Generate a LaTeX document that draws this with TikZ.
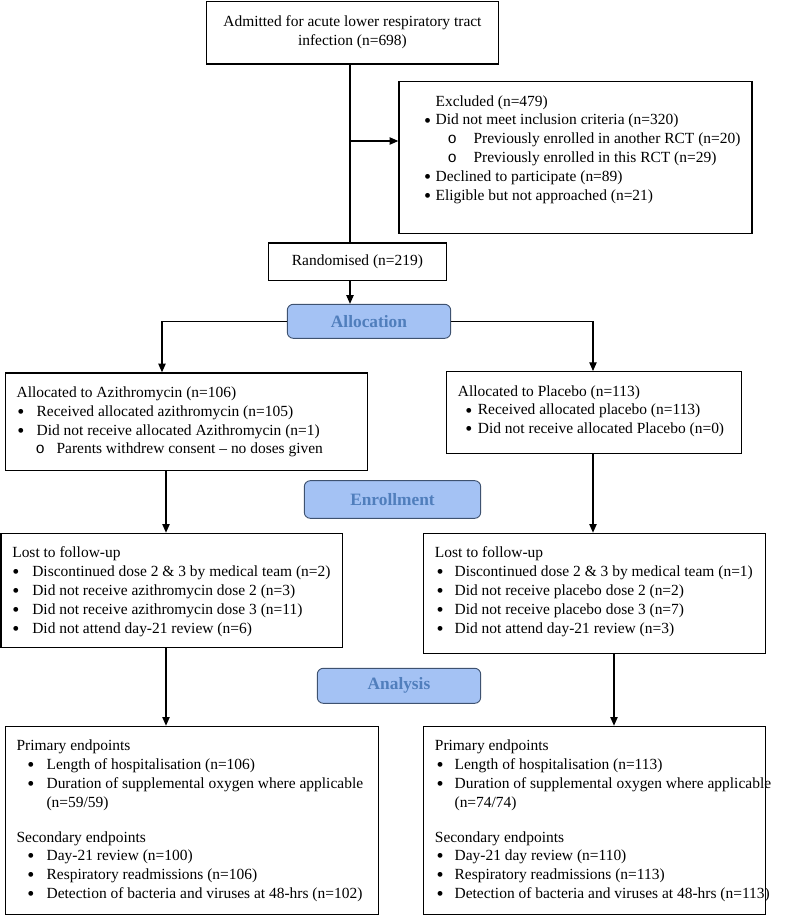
\documentclass[tikz,border=0pt]{standalone}
\usepackage{fontspec}
\usepackage{graphicx}
\setmainfont{Liberation Serif}
\setmonofont{Liberation Mono}
\usetikzlibrary{arrows.meta}

\newdimen\pxu \pxu=0.75pt
\definecolor{stagefill}{RGB}{164,194,244}
\definecolor{stagetext}{RGB}{80,126,188}
\definecolor{stageline}{RGB}{62,82,112}

% boxed text: width, inner height, left pad (all in px), lines
\newcommand\boxtext[4]{\parbox[t][#2\pxu][t]{#1\pxu}{\raggedright\leftskip=#3\pxu\strut#4}}
\newcommand\dotmark{\smash{\raisebox{-0.3ex}{\scalebox{1.3}{\textbullet}}}}
\newcommand\bl[3]{\\\hspace*{#1\pxu}\makebox[#2\pxu][l]{\dotmark}\mbox{#3}}
\newcommand\sbl[3]{\\\hspace*{#1\pxu}\makebox[#2\pxu][l]{\texttt{o}}\mbox{#3}}

\tikzset{
  box/.style={draw, line width=0.9pt, anchor=north west, inner xsep=0pt, inner ysep=8.5pt,
    font=\fontsize{11.6}{14.1}\selectfont},
  plainbox/.style={draw, line width=0.9pt, anchor=north west, align=center, inner sep=0pt,
    font=\fontsize{11.6}{14.1}\selectfont},
  stage/.style={draw=stageline, fill=stagefill, line width=0.7pt, rounded corners=4.5pt,
    text=stagetext, font=\fontsize{13}{15}\selectfont\bfseries},
  arr/.style={-{Triangle[length=6.5pt,width=5.5pt]}, line width=0.9pt},
  line/.style={line width=0.9pt}
}

\begin{document}
\begin{tikzpicture}[x=0.75pt,y=-0.75pt]
\useasboundingbox (0,0) rectangle (786,915);

% enrolment
\node[plainbox, minimum width=291.7*\pxu, minimum height=62.8*\pxu] (admit) at (206,0.5)
  {Admitted for acute lower respiratory tract\\infection (n=698)};
\node[box] (excl) at (398.3,81) {\boxtext{353}{129}{25.7}{\hspace*{11\pxu}Excluded (n=479)
  \bl{-0.5}{11.5}{Did not meet inclusion criteria (n=320)}
  \sbl{23}{26}{Previously enrolled in another RCT (n=20)}
  \sbl{23}{26}{Previously enrolled in this RCT (n=29)}
  \bl{-0.5}{11.5}{Declined to participate (n=89)}
  \bl{-0.5}{11.5}{Eligible but not approached (n=21)}}};
\node[plainbox, minimum width=178.3*\pxu, minimum height=37.7*\pxu] (rand) at (267.7,242.3)
  {Randomised (n=219)};

% stage labels
\node[stage, minimum width=163.4*\pxu, minimum height=34*\pxu] (alloc) at (369,321.3) {Allocation};
\node[stage, minimum width=176.4*\pxu, minimum height=37.6*\pxu] (enrol) at (392.5,499.5) {Enrollment};
\node[stage, minimum width=163.4*\pxu, minimum height=35*\pxu] (anal) at (399,685.8) {Analysis};

% allocation
\node[box] (azi) at (5,372.3) {\boxtext{361.7}{75}{11}{Allocated to Azithromycin (n=106)
  \bl{0.8}{19.2}{Received allocated azithromycin (n=105)}
  \bl{0.8}{19.2}{Did not receive allocated Azithromycin (n=1)}
  \sbl{19}{21}{Parents withdrew consent -- no doses given}}};
\node[box] (plac) at (445.7,371) {\boxtext{295}{59.6}{11.6}{Allocated to Placebo (n=113)
  \bl{7.5}{12.5}{Received allocated placebo (n=113)}
  \bl{7.5}{12.5}{Did not receive allocated Placebo (n=0)}}};

% follow-up
\node[box] (lostL) at (0.5,532.7) {\boxtext{341.5}{91.6}{11.2}{Lost to follow-up
  \bl{0.1}{19.9}{Discontinued dose 2 \& 3 by medical team (n=2)}
  \bl{0.1}{19.9}{Did not receive azithromycin dose 2 (n=3)}
  \bl{0.1}{19.9}{Did not receive azithromycin dose 3 (n=11)}
  \bl{0.1}{19.9}{Did not attend day-21 review (n=6)}}};
\node[box] (lostR) at (422.7,532.7) {\boxtext{342.3}{97.9}{11.6}{Lost to follow-up
  \bl{1.8}{17.9}{Discontinued dose 2 \& 3 by medical team (n=1)}
  \bl{1.8}{17.9}{Did not receive placebo dose 2 (n=2)}
  \bl{1.8}{17.9}{Did not receive placebo dose 3 (n=7)}
  \bl{1.8}{17.9}{Did not attend day-21 review (n=3)}}};

% analysis
\node[box] (endL) at (5,725.7) {\boxtext{373}{165.3}{11}{Primary endpoints
  \bl{10.8}{19.2}{Length of hospitalisation (n=106)}
  \bl{10.8}{19.2}{Duration of supplemental oxygen where applicable}
  \\\hspace*{30\pxu}(n=59/59)
  \\[16\pxu]Secondary endpoints
  \bl{10.8}{19.2}{Day-21 review (n=100)}
  \bl{10.8}{19.2}{Respiratory readmissions (n=106)}
  \bl{10.8}{19.2}{Detection of bacteria and viruses at 48-hrs (n=102)}}};
\node[box] (endR) at (422.7,725.7) {\boxtext{342.3}{165.3}{11.6}{Primary endpoints
  \bl{1.8}{17.9}{Length of hospitalisation (n=113)}
  \bl{1.8}{17.9}{Duration of supplemental oxygen where applicable}
  \\\hspace*{19.7\pxu}(n=74/74)
  \\[16\pxu]Secondary endpoints
  \bl{1.8}{17.9}{Day-21 day review (n=110)}
  \bl{1.8}{17.9}{Respiratory readmissions (n=113)}
  \bl{1.8}{17.9}{Detection of bacteria and viruses at 48-hrs (n=113)}}};

% connectors
\coordinate (trunk) at (350,141);
\coordinate (lbranch) at (162,0);
\coordinate (rbranch) at (593,0);
\coordinate (lcol) at (166,0);
\coordinate (rcol) at (614,0);

\draw[line] (admit.south -| trunk) -- (rand.north -| trunk);
\draw[arr] (trunk) -- (excl.west |- trunk);
\draw[arr] (rand.south -| trunk) -- (alloc.north -| trunk);
\draw[arr] (alloc.west) -| (azi.north -| lbranch);
\draw[arr] (alloc.east) -| (plac.north -| rbranch);
\draw[arr] (azi.south -| lcol) -- (lostL.north -| lcol);
\draw[arr] (plac.south -| rbranch) -- (lostR.north -| rbranch);
\draw[arr] (lostL.south -| lcol) -- (endL.north -| lcol);
\draw[arr] (lostR.south -| rcol) -- (endR.north -| rcol);

\end{tikzpicture}
\end{document}
